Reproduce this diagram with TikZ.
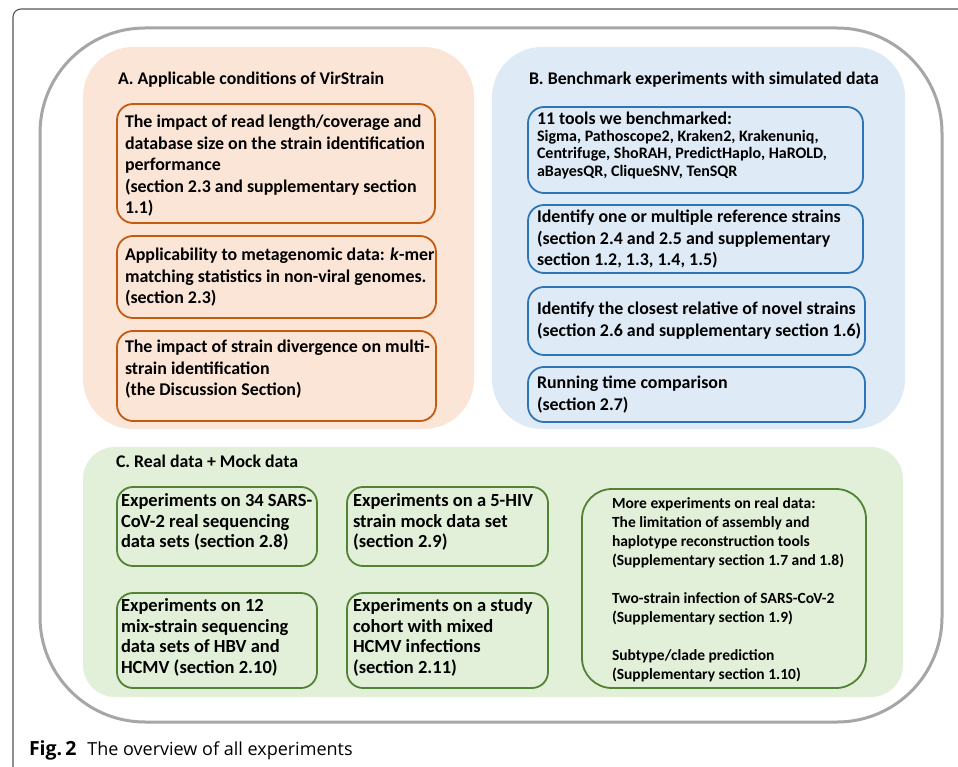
\documentclass[tikz,border=0pt]{standalone}
\usepackage{fontspec}
\setmainfont{Carlito}
\newfontfamily\capfont{Open Sans}
\definecolor{peach}{HTML}{FBE5D6}
\definecolor{lblue}{HTML}{DEEBF7}
\definecolor{lgreen}{HTML}{E2F0D9}
\definecolor{orng}{HTML}{C55A11}
\definecolor{dblue}{HTML}{2E75B6}
\definecolor{dgreen}{HTML}{548235}
\definecolor{framegray}{HTML}{555555}
\definecolor{ringgray}{HTML}{A6A6A6}
\begin{document}
\begin{tikzpicture}[x=1pt,y=-1pt,
  every node/.style={inner sep=0pt, outer sep=0pt, anchor=north west},
  ttl/.style={align=left, font=\fontsize{17.8}{21.3}\selectfont\bfseries},
  txt/.style={align=left, font=\fontsize{17.9}{21.5}\selectfont\bfseries},
  stxt/.style={align=left, font=\fontsize{16}{17.5}\selectfont\bfseries},
  ctxt/.style={align=left, font=\fontsize{18.5}{20.5}\selectfont\bfseries},
  c5txt/.style={align=left, font=\fontsize{15.5}{19}\selectfont\bfseries},
  panel/.style={draw=none, rounded corners=#1},
  boxA/.style={draw=orng, line width=1.8pt, rounded corners=16, fill=peach},
  boxB/.style={draw=dblue, line width=1.8pt, rounded corners=16, fill=lblue},
  boxC/.style={draw=dgreen, line width=1.8pt, rounded corners=#1, fill=lgreen},
  boxC/.default=16
]
\useasboundingbox (0,0) rectangle (958,767);
\fill[white] (0,0) rectangle (958,767);
% outer frame
\draw[framegray, line width=1.1pt, rounded corners=8] (13,767) -- (13,9) -- (958,9);
% gray ring
\draw[ringgray, line width=3pt, rounded corners=105] (40,28) rectangle (942,722);
% panels
\fill[peach, panel=50] (83,47) rectangle (474,429);
\fill[lblue, panel=50] (492,47) rectangle (905,429);
\fill[lgreen, panel=32] (83,447) rectangle (903,697);

% panel A
\node[ttl] (ta) at (118,72) {A. Applicable conditions of VirStrain};
\node[boxA, minimum width=318, minimum height=119] (a1) at (117,104) {};
\node[txt] (a1t) at (125,115) {The impact of read length/coverage and\\database size on the strain identification\\performance\\(section 2.3 and supplementary section\\1.1)};
\node[boxA, minimum width=319, minimum height=82] (a2) at (117,236) {};
\node[txt] (a2t) at (125,248) {Applicability to metagenomic data: \textit{k}-mer\\matching statistics in non-viral genomes.\\(section 2.3)};
\node[boxA, minimum width=319, minimum height=90] (a3) at (117,331) {};
\node[txt] (a3t) at (125,340) {The impact of strain divergence on multi-\\strain identification\\(the Discussion Section)};

% panel B
\node[ttl] (tb) at (529,72) {B. Benchmark experiments with simulated data};
\node[boxB, minimum width=335, minimum height=86] (b1) at (528,107) {};
\node[ttl] (b1t) at (537,112) {11 tools we benchmarked:};
\node[stxt] (b1s) at (537,130) {Sigma, Pathoscope2, Kraken2, Krakenuniq,\\Centrifuge, ShoRAH, PredictHaplo, HaROLD,\\aBayesQR, CliqueSNV, TenSQR};
\node[boxB, minimum width=335, minimum height=68] (b2) at (528,205) {};
\node[txt] (b2t) at (537,210) {Identify one or multiple reference strains\\(section 2.4 and 2.5 and supplementary\\section 1.2, 1.3, 1.4, 1.5)};
\node[boxB, minimum width=337, minimum height=68] (b3) at (528,287) {};
\node[txt] (b3t) at (537,302) {Identify the closest relative of novel strains\\(section 2.6 and supplementary section 1.6)};
\node[boxB, minimum width=337, minimum height=55] (b4) at (528,367) {};
\node[txt] (b4t) at (537,376) {Running time comparison\\(section 2.7)};

% panel C
\node[ttl] (tc) at (116,455) {C. Real data + Mock data};
\node[boxC, minimum width=200, minimum height=79] (c1) at (117,487) {};
\node[ctxt] (c1t) at (121,494) {Experiments on 34 SARS-\\CoV-2 real sequencing\\data sets (section 2.8)};
\node[boxC, minimum width=201, minimum height=79] (c2) at (347,487) {};
\node[ctxt] (c2t) at (353,494) {Experiments on a 5-HIV\\strain mock data set\\(section 2.9)};
\node[boxC, minimum width=200, minimum height=95] (c3) at (117,593) {};
\node[ctxt] (c3t) at (121,599) {Experiments on 12\\mix-strain sequencing\\data sets of HBV and\\HCMV (section 2.10)};
\node[boxC, minimum width=201, minimum height=95] (c4) at (347,593) {};
\node[ctxt] (c4t) at (353,599) {Experiments on a study\\cohort with mixed\\HCMV infections\\(section 2.11)};
\node[boxC=30, minimum width=284, minimum height=199] (c5) at (582,489) {};
\node[c5txt] (c5t) at (612,498) {More experiments on real data:\\The limitation of assembly and\\haplotype reconstruction tools\\(Supplementary section 1.7 and 1.8)\\[19pt]Two-strain infection of SARS-CoV-2\\(Supplementary section 1.9)\\[19pt]Subtype/clade prediction\\(Supplementary section 1.10)};

% caption
\node[font=\capfont\fontsize{18}{20}\selectfont, anchor=west] (cap) at (29,750) {{\fontsize{19.5}{20}\selectfont\textbf{Fig.\,2}}\hspace{0.6em}The overview of all experiments};
\end{tikzpicture}
\end{document}
